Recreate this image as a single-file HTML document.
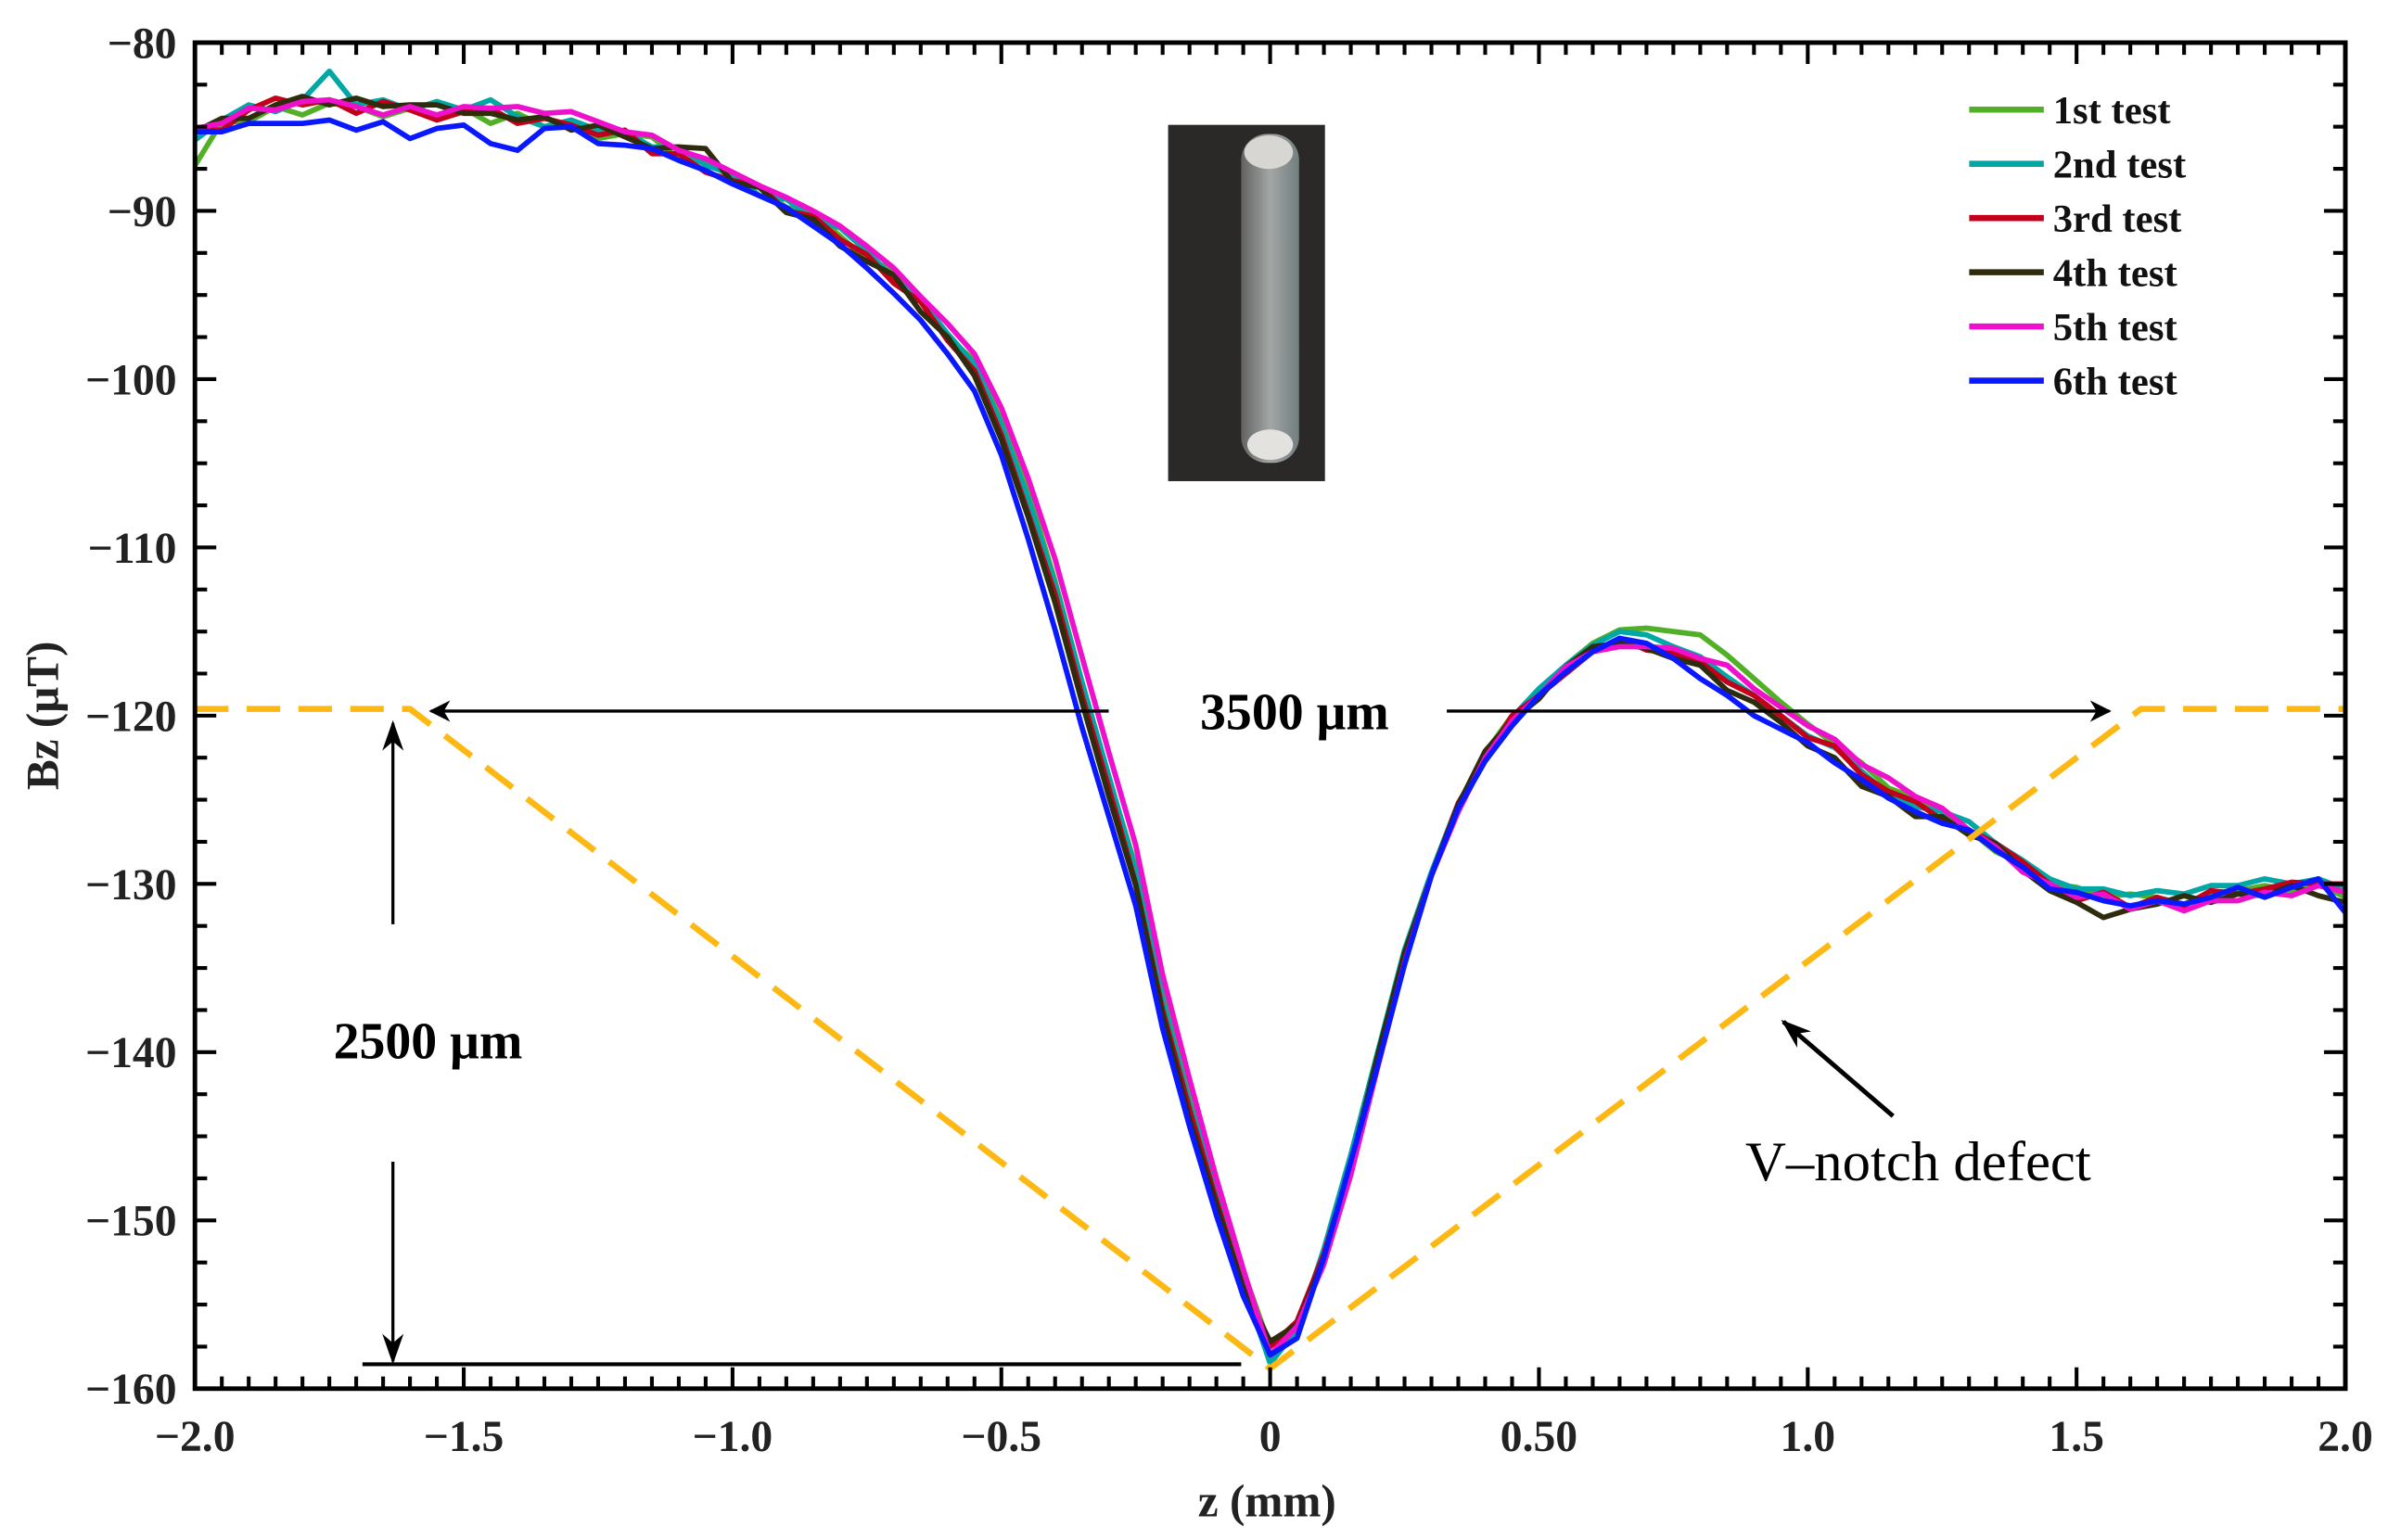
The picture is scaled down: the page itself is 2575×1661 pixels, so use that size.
<!DOCTYPE html>
<html><head><meta charset="utf-8">
<style>
html,body{margin:0;padding:0;background:#fff;}
svg{display:block;}
text{font-family:"Liberation Serif","DejaVu Serif",serif;}
</style></head>
<body>
<svg id="chart" width="2575" height="1661" viewBox="0 0 1568 1011.4" preserveAspectRatio="none" xmlns="http://www.w3.org/2000/svg">
<defs>
<marker id="ah" viewBox="0 0 10 10" refX="9" refY="5" markerWidth="14" markerHeight="14" markerUnits="userSpaceOnUse" orient="auto">
<path d="M0,0 L10,5 L0,10 L3,5 Z" fill="#000"/></marker>
<marker id="ahv" viewBox="0 0 10 10" refX="9" refY="5" markerWidth="20" markerHeight="20" markerUnits="userSpaceOnUse" orient="auto">
<path d="M0,1.5 L10,5 L0,8.5 L3,5 Z" fill="#000"/></marker>
<linearGradient id="rod" x1="0" x2="1"><stop offset="0" stop-color="#6c6e6c"/><stop offset="0.5" stop-color="#b8bcbc"/><stop offset="1" stop-color="#7f8c8e"/></linearGradient>
</defs>
<g id="inset">
<rect x="767" y="82" width="103" height="234" fill="#2b2927"/>
<rect x="815" y="88" width="38" height="216" rx="17" fill="url(#rod)" opacity="0.85"/>
<ellipse cx="833" cy="100" rx="16" ry="11" fill="#d8d6d2"/>
<ellipse cx="834" cy="292" rx="15" ry="10" fill="#e4e2de"/>
</g>
<g id="series"></g>
<g id="annot"></g>
<g id="axes"></g>
<g id="legend"></g>
</svg>
<script>
const zStart = -2.0, zStep = 0.05;
const base = [-85.5,-85,-84.5,-84.3,-84,-84,-84,-84,-84.2,-84.3,
-84.4,-84.5,-84.6,-84.8,-85,-85.2,-85.6,-86,-86.6,-87.3,
-88,-88.8,-89.6,-90.5,-91.5,-92.6,-94,-95.6,-97.5,-99.5,
-103,-107.5,-112.5,-118.5,-124,-129.5,-137,-143,-148.5,-153.5,
-157.5,-156.5,-152,-146.5,-140.5,-134.5,-129.5,-125.5,-122.5,-120.3,
-118.8,-117.3,-116.2,-115.7,-115.8,-116.3,-117,-118,-119,-120,
-121,-122,-123.3,-124.5,-125.4,-126,-126.8,-127.8,-129,-130,
-130.5,-130.8,-131,-131,-131,-130.8,-130.6,-130.5,-130.4,-130.3,-130.5];
const off1 = [-1.8,0.3,-0.2,0.5,-0.3,0.4,0.2,-0.4,0.3,0,
0.5,-0.3,0.4,-0.2,0.3,-0.5,0.2,0.4,-0.3,0.2,
0,0.3,-0.2,0.4,0,-0.3,0.5,0.3,0,0.6,
0.5,0.8,0.5,0.5,0.3,0.5,0.5,0.5,0.3,0.5,
0,0.3,0,0,-0.3,0,0,0,0.3,0.3,
0,0.3,0.5,0.8,1,1.3,1.8,1.6,1.2,0.8,
0.5,0.3,0.5,0.2,0.5,0.3,0,-0.3,0.2,0,
0.3,0,0.4,0.2,-0.2,0.3,0.2,0.4,0,0.3,-0.3];
const off2 = [-0.3,0.4,0.8,0.2,0.6,2.3,0.3,0.6,0.2,0.8,
0.4,1.1,0.2,-0.2,0.4,0,0.3,-0.2,0.4,0,
0.2,-0.3,0.3,0,0.5,0.2,0,0.3,0.2,0.4,
0.3,0.4,0.3,0.5,0.4,0.3,0.2,0,0.3,-0.3,
-1,0,0.3,0.4,0.5,0.6,0.2,0.3,0,0.2,
0.4,0.3,0.4,0.7,0.6,0.4,0.5,0.3,0.2,0,
-0.2,0.1,0,-0.2,0,0.3,0.5,0.2,0.4,0.3,
0.2,0.5,0.3,0.6,0.4,0.7,0.5,0.8,0.4,0.6,0.2];
const off3 = [0.3,-0.2,0.5,1,0.3,0.6,-0.2,0.5,0.2,-0.3,
0.3,0.6,-0.2,0.3,0.1,-0.3,0.4,-0.6,0,-0.4,
-0.2,0.3,-0.4,0.2,-0.2,0,-0.3,0.2,-0.2,0,
-0.3,-0.5,-0.3,-0.3,-0.3,-0.5,-0.5,-0.4,-0.3,-0.5,
0,0.5,0,-0.2,0,0.2,0,0.3,0,0.3,
0,-0.2,0,0.3,-0.3,0,0.2,0,0.2,0,
-0.3,0.2,-0.2,0,0.3,-0.2,0,0.2,0.3,0,
-0.5,0.3,-0.4,0.2,-0.3,0.4,0,0.2,0.5,0.3,0.5];
const off4 = [0.2,0.5,0,0.6,0.8,0.3,0.7,0.2,0.5,0.6,
0.2,0.3,0,0.4,-0.2,0.3,0,-0.3,0.4,1,
-0.3,0.2,-0.5,0,-0.6,-0.4,0.2,-0.4,0,-0.3,
-0.6,-0.7,-0.8,-0.7,-0.8,-0.6,-0.8,-1,-0.6,-0.5,
0.3,0.3,-0.3,-0.2,0.3,0.4,0,0.2,0.4,0,
-0.2,0.2,0.3,0,-0.2,-0.3,0,-0.5,-0.2,-0.4,
-0.8,-0.5,-0.9,-0.3,-0.6,0,-0.3,0.2,-0.2,-0.4,
-0.6,-1.2,-0.5,-0.2,0.3,-0.3,0,-0.2,0.3,-0.4,-0.6];
const off5 = [0.4,0.2,0.6,0.3,0.5,0.6,0.2,-0.3,0.4,0,
0.6,0.6,0.8,0.6,0.9,0.5,0.3,0.5,0.2,0.4,
0.3,0.3,0.4,0.5,0.6,0.5,0.6,0.5,0.8,1.0,
1.3,1.6,1.8,2.0,1.8,1.8,1.6,1.4,1.0,0.6,
-0.5,0.2,-0.6,-0.8,-0.4,-0.2,0,-0.2,0,0,
0,0.2,0,-0.2,-0.1,0.3,0.4,1,0.6,0.5,
0.4,0.6,0.4,0.8,0.6,0.5,0,0,-0.3,0,
-0.3,0.2,-0.5,0,-0.6,-0.2,-0.4,0,-0.3,0.2,0];
const off6 = [0.2,-0.3,-0.3,-0.5,-0.8,-0.6,-1.2,-0.7,-1.5,-0.8,
-0.5,-1.5,-1.8,-0.3,0,-0.8,-0.5,-0.3,-0.4,-0.3,
-0.4,-0.3,-0.2,-0.4,-0.5,-0.8,-0.9,-0.9,-1.0,-1.2,
-1.5,-2.0,-2.4,-2.2,-2,-1.8,-1.6,-1.4,-1.2,-1.0,
-0.5,-0.5,-0.2,0,-0.3,-0.3,0,0,-0.2,-0.3,
0,-0.1,0,0.3,0.1,-0.3,-0.8,-0.8,-1,-0.8,
-0.6,-0.8,-0.5,-0.4,-0.3,-0.4,0,-0.2,0,-0.3,
0,-0.2,-0.3,0,-0.2,0,0.4,-0.3,0.2,0.6,-1.2];
const seriesNames = ["1st test","2nd test","3rd test","4th test","5th test","6th test"];
const seriesColors = ["#52b026","#00a7a5","#c2001c","#2e2c0c","#ee10cc","#0a18ff"];
const seriesOffsets = [off1,off2,off3,off4,off5,off6];
const xTicks = [-2.0,-1.5,-1.0,-0.5,0,0.5,1.0,1.5,2.0];
const xTickLabels = ["\u22122.0","\u22121.5","\u22121.0","\u22120.5","0","0.50","1.0","1.5","2.0"];
const yTicks = [-80,-90,-100,-110,-120,-130,-140,-150,-160];
const yTickLabels = ["\u221280","\u221290","\u2212100","\u2212110","\u2212120","\u2212130","\u2212140","\u2212150","\u2212160"];
const notchZ = [-2.0,-1.6,0.0,1.62,2.0];
const notchB = [-119.6,-119.6,-158.8,-119.6,-119.6];

const X0=128,X1=1540,Y0=28,Y1=912;
const sx = z => X0 + (z + 2) / 4 * (X1 - X0);
const sy = v => Y0 + (-80 - v) / 80 * (Y1 - Y0);
const NS="http://www.w3.org/2000/svg";
function mk(tag, attrs, parent){const e=document.createElementNS(NS,tag);for(const k in attrs)e.setAttribute(k,attrs[k]);parent.appendChild(e);return e;}

const gS=document.getElementById('series');
seriesOffsets.forEach((off,si)=>{
  let d='';
  base.forEach((b,i)=>{const v=b+(off[i]||0);d+=(i?'L':'M')+sx(zStart+i*zStep).toFixed(2)+','+sy(v).toFixed(2);});
  const p=mk('path',{d:d,fill:'none',stroke:seriesColors[si],'stroke-width':3.5,'stroke-linejoin':'round'},gS);
  
  
});

const gA=document.getElementById('annot');
let nd='';notchZ.forEach((z,i)=>{nd+=(i?'L':'M')+sx(z)+','+sy(notchB[i]);});
const notch=mk('path',{d:nd,fill:'none',stroke:'#fdb813','stroke-width':4,'stroke-dasharray':'22 12'},gA);


const a1=mk('line',{x1:728,y1:467,x2:283,y2:467,stroke:'#000','stroke-width':2,'marker-end':'url(#ah)'},gA);


const a2=mk('line',{x1:950,y1:467,x2:1385,y2:467,stroke:'#000','stroke-width':2,'marker-end':'url(#ah)'},gA);


const t1=mk('text',{x:850,y:479,'font-size':34,'font-weight':'bold','text-anchor':'middle'},gA);t1.textContent='3500 \u03bcm';


const a3=mk('line',{x1:258,y1:607,x2:258,y2:475,stroke:'#000','stroke-width':2,'marker-end':'url(#ahv)'},gA);


const a4=mk('line',{x1:258,y1:763,x2:258,y2:894,stroke:'#000','stroke-width':2,'marker-end':'url(#ahv)'},gA);


const l1=mk('line',{x1:238,y1:896,x2:815,y2:896,stroke:'#000','stroke-width':2.5},gA);


const t2=mk('text',{x:281,y:695,'font-size':34,'font-weight':'bold','text-anchor':'middle'},gA);t2.textContent='2500 \u03bcm';


const a5=mk('line',{x1:1243,y1:733,x2:1171,y2:671,stroke:'#000','stroke-width':3,'marker-end':'url(#ahv)'},gA);


const t3=mk('text',{x:1146,y:775,'font-size':37},gA);t3.textContent='V\u2013notch defect';



const gX=document.getElementById('axes');
const frame=mk('rect',{x:X0,y:Y0,width:X1-X0,height:Y1-Y0,fill:'none',stroke:'#000','stroke-width':3},gX);


let td='';
for(let k=0;k<=80;k++){const x=sx(-2+k*0.05);const L=(k%10==0)?14:8;td+=`M${x},${Y1}v${-L}M${x},${Y0}v${L}`;}
for(let k=0;k<=32;k++){const y=sy(-80-k*2.5);const L=(k%4==0)?14:8;td+=`M${X0},${y}h${L}M${X1},${y}h${-L}`;}
const ticks=mk('path',{d:td,stroke:'#000','stroke-width':2.5,fill:'none'},gX);


xTicks.forEach((z,i)=>{const t=mk('text',{x:sx(z),y:953,'font-size':29,'font-weight':'bold','text-anchor':'middle',fill:'#222'},gX);t.textContent=xTickLabels[i];

});
yTicks.forEach((v,i)=>{const t=mk('text',{x:116,y:sy(v)+10,'font-size':29,'font-weight':'bold','text-anchor':'end',fill:'#222'},gX);t.textContent=yTickLabels[i];

});
const xt=mk('text',{x:832,y:996,'font-size':30,'font-weight':'bold','text-anchor':'middle',fill:'#222'},gX);xt.textContent='z (mm)';


const yt=mk('text',{x:0,y:0,'font-size':30,'font-weight':'bold','text-anchor':'middle',fill:'#222',transform:'translate(38,470) rotate(-90)'},gX);yt.textContent='Bz (\u03bcT)';



const gL=document.getElementById('legend');
seriesNames.forEach((n,i)=>{const y=73+i*35.6;
const ln=mk('line',{x1:1293,y1:y-1,x2:1342,y2:y-1,stroke:seriesColors[i],'stroke-width':4},gL);


const t=mk('text',{x:1348,y:y+8,'font-size':26,'font-weight':'bold',fill:'#111'},gL);t.textContent=n;

});
</script>
</body></html>
